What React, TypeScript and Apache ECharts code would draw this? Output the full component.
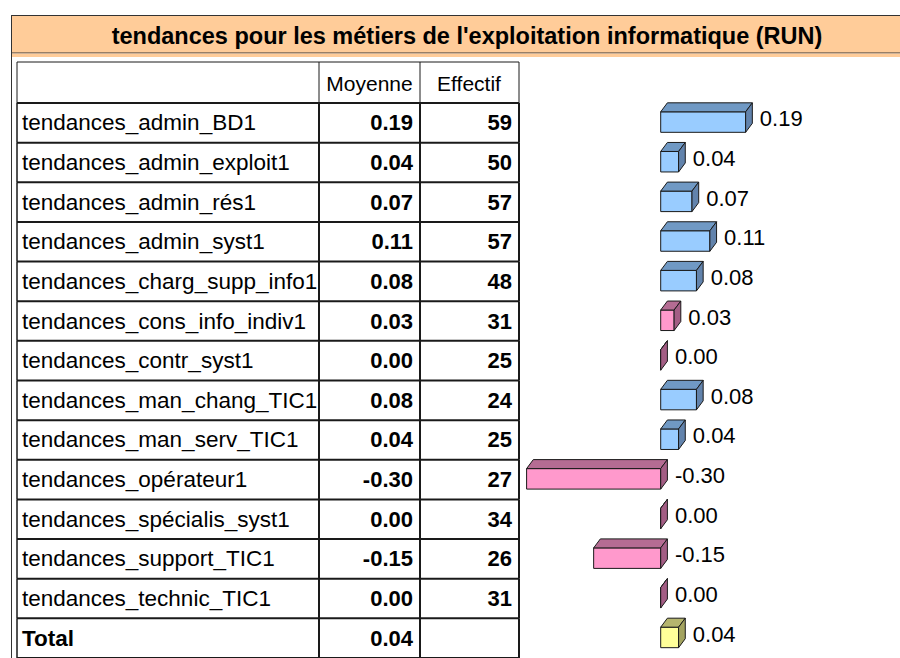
import React, { useEffect, useRef } from "react";
import * as echarts from "echarts";

// ---- data ----
const titleText = "tendances pour les métiers de l'exploitation informatique (RUN)";
const headerMean = "Moyenne";
const headerCount = "Effectif";
const categories = [
  "tendances_admin_BD1",
  "tendances_admin_exploit1",
  "tendances_admin_rés1",
  "tendances_admin_syst1",
  "tendances_charg_supp_info1",
  "tendances_cons_info_indiv1",
  "tendances_contr_syst1",
  "tendances_man_chang_TIC1",
  "tendances_man_serv_TIC1",
  "tendances_opérateur1",
  "tendances_spécialis_syst1",
  "tendances_support_TIC1",
  "tendances_technic_TIC1",
];
const means = [0.19, 0.04, 0.07, 0.11, 0.08, 0.03, 0.0, 0.08, 0.04, -0.3, 0.0, -0.15, 0.0];
const counts = [59, 50, 57, 57, 48, 31, 25, 24, 25, 27, 34, 26, 31];
const totalLabel = "Total";
const totalMean = 0.04;

const FONT = '"Liberation Sans", Arial, sans-serif';
const LINE = "#1a1a1a";

// layout constants (styles, not data)
const X_LEFT_OUTER = 11.5;
const X_LEFT = 17;
const X_COL1 = 319;
const X_COL2 = 420;
const X_RIGHT = 519;
const DX = 6.7;
const DY = 9;

const COLORS = {
  blue: { front: "#99CCFF", top: "#7099C4", side: "#6283AC" },
  pink: { front: "#FF99CC", top: "#B56C93", side: "#A35D84" },
  yellow: { front: "#FFFF99", top: "#B5B56E", side: "#A3A35F" },
};

const allCategories = [...categories, totalLabel];
const allMeans = [...means, totalMean];
const rows = allMeans.map((v, i) => [v, i]);

function txt(x: number, y: number, text: string, font: string, align: string) {
  return {
    type: "text",
    x,
    y,
    style: {
      text,
      fill: "#000",
      font,
      align,
      verticalAlign: "middle",
    },
  };
}

function renderTableRow(params: any, api: any) {
  const i = params.dataIndex;
  const yc = api.coord([0, i])[1];
  const h = api.size([0, 1])[1];
  const top = yc - h / 2;
  const bot = yc + h / 2;
  const isTotal = i === categories.length;
  const label = allCategories[i];
  const mean = allMeans[i].toFixed(2);
  const count = isTotal ? "" : String(counts[i]);
  const lineStyle = { stroke: LINE, lineWidth: 2 };
  return {
    type: "group",
    children: [
      { type: "line", shape: { x1: X_LEFT, y1: bot, x2: X_RIGHT, y2: bot }, style: lineStyle },
      { type: "line", shape: { x1: X_LEFT, y1: top, x2: X_LEFT, y2: bot }, style: { stroke: LINE, lineWidth: 1.5 } },
      { type: "line", shape: { x1: X_COL1, y1: top, x2: X_COL1, y2: bot }, style: lineStyle },
      { type: "line", shape: { x1: X_COL2, y1: top, x2: X_COL2, y2: bot }, style: lineStyle },
      { type: "line", shape: { x1: X_RIGHT, y1: top, x2: X_RIGHT, y2: bot }, style: lineStyle },
      txt(22, yc, label, (isTotal ? "bold " : "") + "22.5px " + FONT, "left"),
      txt(413, yc, mean, "bold 22px " + FONT, "right"),
      txt(512, yc, count, "bold 22px " + FONT, "right"),
    ],
  };
}

function renderBar(params: any, api: any) {
  const i = params.dataIndex;
  const v = api.value(0);
  const [x1, yc] = api.coord([v, i]);
  const x0 = api.coord([0, i])[0];
  const left = Math.min(x0, x1);
  const right = Math.max(x0, x1);
  const top = yc - 11;
  const bot = yc + 9.5;
  const isTotal = i === categories.length;
  const c = isTotal ? COLORS.yellow : v >= totalMean ? COLORS.blue : COLORS.pink;
  const st = { stroke: LINE, lineWidth: 1 };
  return {
    type: "group",
    children: [
      {
        type: "rect",
        shape: { x: left, y: top, width: right - left, height: bot - top },
        style: { fill: c.front, ...st },
      },
      {
        type: "polygon",
        shape: { points: [[left, top], [left + DX, top - DY], [right + DX, top - DY], [right, top]] },
        style: { fill: c.top, ...st },
      },
      {
        type: "polygon",
        shape: { points: [[right, top], [right + DX, top - DY], [right + DX, bot - DY], [right, bot]] },
        style: { fill: c.side, ...st },
      },
      txt(right + DX + 7.5, yc - 4, v.toFixed(2), "22px " + FONT, "left"),
    ],
  };
}

export default function App() {
  const ref = useRef<HTMLDivElement>(null);
  useEffect(() => {
    document.body.style.margin = "0";
    const chart = echarts.init(ref.current!, null, { renderer: "svg" });
    chart.setOption({
      animation: false,
      backgroundColor: "#fff",
      grid: { left: 481.9, width: 357.6, top: 103, height: 560 },
      xAxis: { type: "value", min: -0.4, max: 0.4, show: false },
      yAxis: { type: "category", data: allCategories, inverse: true, show: false },
      graphic: [
        // outer left border
        { type: "line", shape: { x1: X_LEFT_OUTER, y1: 15, x2: X_LEFT_OUTER, y2: 658 }, style: { stroke: "#333", lineWidth: 1 } },
        // title bar
        { type: "rect", shape: { x: X_LEFT_OUTER, y: 15.5, width: 900, height: 37.5 }, style: { fill: "#FFCC99", stroke: "#333", lineWidth: 1 } },
        { type: "rect", shape: { x: 12, y: 53.5, width: 900, height: 3.5 }, style: { fill: "#FFCC99" } },
        {
          type: "text",
          x: 467,
          y: 35.5,
          style: { text: titleText, font: "bold 23.5px " + FONT, fill: "#000", align: "center", verticalAlign: "middle" },
        },
        // header row
        { type: "rect", shape: { x: X_LEFT, y: 62, width: X_RIGHT - X_LEFT, height: 41 }, style: { fill: "#fff", stroke: LINE, lineWidth: 1 } },
        { type: "line", shape: { x1: X_COL1, y1: 62, x2: X_COL1, y2: 103 }, style: { stroke: LINE, lineWidth: 1 } },
        { type: "line", shape: { x1: X_COL2, y1: 62, x2: X_COL2, y2: 103 }, style: { stroke: LINE, lineWidth: 1 } },
        { type: "line", shape: { x1: X_LEFT, y1: 103, x2: X_RIGHT, y2: 103 }, style: { stroke: LINE, lineWidth: 2 } },
        {
          type: "text",
          x: 369.5,
          y: 83,
          style: { text: headerMean, font: "21px " + FONT, fill: "#000", align: "center", verticalAlign: "middle" },
        },
        {
          type: "text",
          x: 469,
          y: 83,
          style: { text: headerCount, font: "21px " + FONT, fill: "#000", align: "center", verticalAlign: "middle" },
        },
      ],
      series: [
        { type: "custom", renderItem: renderTableRow, data: rows, clip: false, z: 2 },
        { type: "custom", renderItem: renderBar, data: rows, clip: false, z: 3 },
      ],
    });
    return () => chart.dispose();
  }, []);
  return <div ref={ref} style={{ width: 900, height: 658 }} />;
}
